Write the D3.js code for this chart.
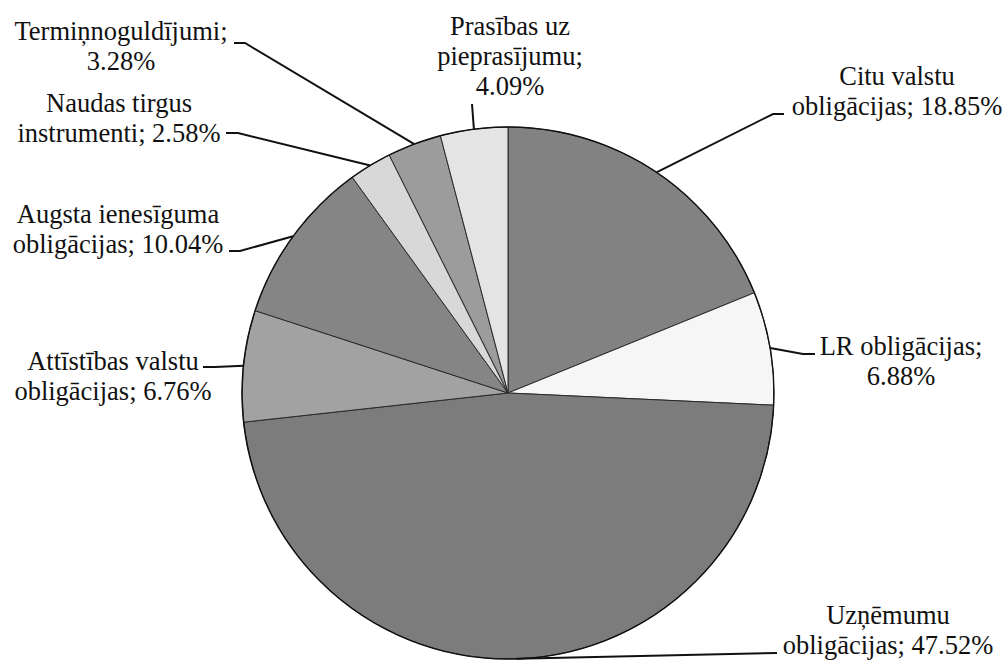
<!DOCTYPE html>
<html>
<head>
<meta charset="utf-8">
<script src="https://cdn.jsdelivr.net/npm/d3@7"></script>
<style>
  html, body { margin: 0; padding: 0; background: #fff; }
  svg { display: block; }
  text { font-family: "Liberation Serif", "Times New Roman", serif; font-size: 26.5px; fill: #111; }
</style>
</head>
<body>
<svg id="chart" width="1007" height="662"></svg>
<script>
// ---- data ----
const categories = [
  "Citu valstu obligācijas",
  "LR obligācijas",
  "Uzņēmumu obligācijas",
  "Attīstības valstu obligācijas",
  "Augsta ienesīguma obligācijas",
  "Naudas tirgus instrumenti",
  "Termiņnoguldījumi",
  "Prasības uz pieprasījumu"
];
const values = [18.85, 6.88, 47.52, 6.76, 10.04, 2.58, 3.28, 4.09];
// words per label line
const lineWords = [[2, 2], [2, 1], [1, 2], [2, 2], [2, 2], [2, 2], [1, 1], [2, 1, 1]];

// ---- styling / layout ----
const fills = ["#828282", "#f6f6f6", "#7c7c7c", "#a2a2a2", "#858585", "#d8d8d8", "#9c9c9c", "#e4e4e4"];
const cx = 508, cy = 393, r = 266;
const lineH = 30;
// label layout: text centre x, first baseline, leader path points (from text side)
const layout = [
  { x: 897, y: 85,  pts: [[784, 114], [773, 114]] },
  { x: 901, y: 355, pts: [[815, 354], [803, 354]] },
  { x: 888, y: 624, pts: [[777, 653]] },
  { x: 113, y: 370, pts: [[203, 367], [215, 367]] },
  { x: 118, y: 223, pts: [[229, 251], [240, 251]] },
  { x: 119, y: 112, pts: [[226, 133], [238, 133]] },
  { x: 121, y: 40,  pts: [[234, 43], [245, 43]] },
  { x: 510, y: 35,  pts: [[472, 104]] }
];

const svg = d3.select("#chart");
const g = svg.append("g").attr("transform", `translate(${cx},${cy})`);

const pie = d3.pie().sort(null).value(d => d)(values);
const arc = d3.arc().innerRadius(0).outerRadius(r);
const edgeArc = d3.arc().innerRadius(r).outerRadius(r);

g.selectAll("path.slice").data(pie).join("path")
  .attr("class", "slice")
  .attr("d", arc)
  .attr("fill", (d, i) => fills[i])
  .attr("stroke", "#2a2a2a")
  .attr("stroke-width", 1);

g.append("circle").attr("r", r).attr("fill", "none").attr("stroke", "#111").attr("stroke-width", 1.4);

// leader lines
const line = d3.line();
pie.forEach((d, i) => {
  const [ex, ey] = edgeArc.centroid(d);
  const pts = layout[i].pts.map(p => [p[0], p[1]]);
  pts.push([cx + ex, cy + ey]);
  svg.append("path")
    .attr("d", line(pts))
    .attr("fill", "none")
    .attr("stroke", "#111")
    .attr("stroke-width", 2);
});

// labels
categories.forEach((c, i) => {
  const words = (c + "; " + values[i].toFixed(2) + "%").split(" ");
  const lines = [];
  let k = 0;
  lineWords[i].forEach(n => { lines.push(words.slice(k, k + n).join(" ")); k += n; });
  const t = svg.append("text").attr("text-anchor", "middle");
  lines.forEach((ln, j) => {
    t.append("tspan").attr("x", layout[i].x).attr("y", layout[i].y + j * lineH).text(ln);
  });
});
</script>
</body>
</html>
